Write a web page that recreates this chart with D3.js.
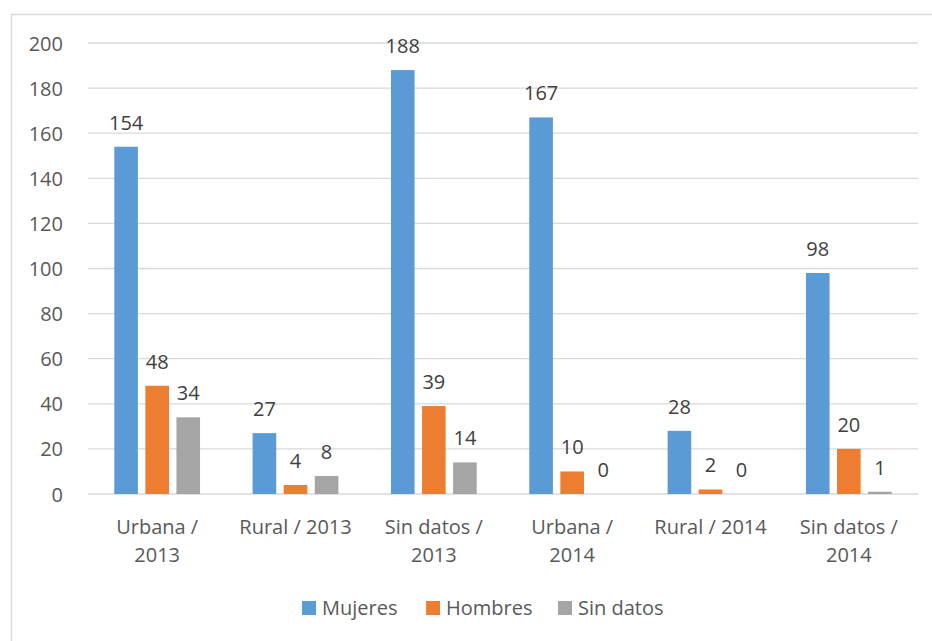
<!DOCTYPE html>
<html>
<head>
<meta charset="utf-8">
<script src="https://cdn.jsdelivr.net/npm/d3@7"></script>
<style>
  body { margin: 0; background: #fff; }
  text { font-family: "Open Sans", sans-serif; }
</style>
</head>
<body>
<svg id="chart"></svg>
<script>
// data
const categories = ["Urbana / 2013", "Rural / 2013", "Sin datos / 2013", "Urbana / 2014", "Rural / 2014", "Sin datos / 2014"];
const seriesNames = ["Mujeres", "Hombres", "Sin datos"];
const mujeres = [154, 27, 188, 167, 28, 98];
const hombres = [48, 4, 39, 10, 2, 20];
const sinDatos = [34, 8, 14, 0, 0, 1];
const yTicks = [0, 20, 40, 60, 80, 100, 120, 140, 160, 180, 200];
const colors = ["#5B9BD5", "#ED7D31", "#A5A5A5"];

const W = 932, H = 641;
const margin = { top: 43, right: 14, bottom: 147, left: 88 };
const width = W - margin.left - margin.right;
const height = H - margin.top - margin.bottom;

const svg = d3.select("#chart").attr("width", W).attr("height", H);

// outer chart border (top + left visible in the reference)
svg.append("path")
    .attr("d", `M11.5,${H} L11.5,14.5 L${W},14.5`)
    .attr("fill", "none")
    .attr("stroke", "#D9D9D9")
    .attr("stroke-width", 1.5);

const g = svg.append("g").attr("transform", `translate(${margin.left},${margin.top})`);

const rows = categories.map((c, i) => ({ cat: c, vals: [mujeres[i], hombres[i], sinDatos[i]] }));

const x0 = d3.scaleBand().domain(categories).range([0, width]).paddingInner(0.38).paddingOuter(0.19);
const x1 = d3.scaleBand().domain(seriesNames).range([0, x0.bandwidth()]).paddingInner(0.24);
const y = d3.scaleLinear().domain([0, 200]).range([height, 0]);

// gridlines
g.append("g")
    .selectAll("line")
    .data(yTicks)
    .enter()
    .append("line")
        .attr("x1", 0).attr("x2", width)
        .attr("y1", d => y(d)).attr("y2", d => y(d))
        .attr("stroke", "#D9D9D9")
        .attr("stroke-width", 1.3);

// y axis labels
const yAxis = g.append("g")
    .call(d3.axisLeft(y).tickValues(yTicks).tickSize(0).tickPadding(25));
yAxis.select(".domain").remove();
yAxis.selectAll("text")
    .attr("fill", "#595959")
    .style("font-size", "20px")
    .attr("dy", "0.35em");

// x axis labels, wrapped like the original
const xAxis = g.append("g")
    .attr("transform", `translate(0,${height})`)
    .call(d3.axisBottom(x0).tickSize(0).tickPadding(0));
xAxis.select(".domain").remove();
xAxis.selectAll("text")
    .attr("fill", "#595959")
    .style("font-size", "20px")
    .attr("y", 0)
    .attr("dy", 0)
    .each(function(d) {
        const t = d3.select(this);
        t.text(null);
        let lines = [d];
        const probe = t.append("tspan").text(d);
        if (probe.node().getComputedTextLength() > x0.step() - 6) {
            const k = d.lastIndexOf(" ");
            lines = [d.slice(0, k), d.slice(k + 1)];
        }
        probe.remove();
        lines.forEach((ln, i) => {
            t.append("tspan")
                .attr("x", 0)
                .attr("y", 40 + i * 28)
                .text(ln);
        });
    });

// bars
const groups = g.selectAll(".grp")
    .data(rows)
    .enter()
    .append("g")
        .attr("class", "grp")
        .attr("transform", d => `translate(${x0(d.cat)},0)`);

groups.selectAll("rect")
    .data(d => d.vals.map((v, i) => ({ key: seriesNames[i], value: v, i: i })))
    .enter()
    .append("rect")
        .attr("x", d => x1(d.key))
        .attr("y", d => y(d.value))
        .attr("width", x1.bandwidth())
        .attr("height", d => height - y(d.value))
        .attr("fill", d => colors[d.i]);

groups.selectAll(".lbl")
    .data(d => d.vals.map((v, i) => ({ key: seriesNames[i], value: v })))
    .enter()
    .append("text")
        .attr("class", "lbl")
        .attr("x", d => x1(d.key) + x1.bandwidth() / 2)
        .attr("y", d => y(d.value) - 17)
        .attr("text-anchor", "middle")
        .attr("fill", "#404040")
        .style("font-size", "20px")
        .text(d => d.value);

// legend
const legendX = [302, 426, 558];
const legend = svg.append("g").attr("transform", "translate(0,601)");
seriesNames.forEach((s, i) => {
    legend.append("rect")
        .attr("x", legendX[i]).attr("y", 0)
        .attr("width", 14).attr("height", 14)
        .attr("fill", colors[i]);
    legend.append("text")
        .attr("x", legendX[i] + 20)
        .attr("y", 14)
        .attr("fill", "#595959")
        .style("font-size", "20px")
        .text(s);
});
</script>
</body>
</html>
